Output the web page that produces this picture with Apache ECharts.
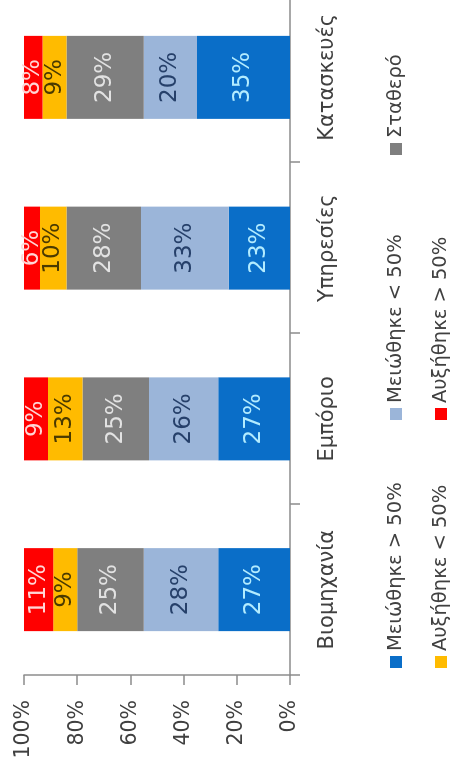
<!DOCTYPE html>
<html>
<head>
<meta charset="utf-8">
<script src="https://cdn.jsdelivr.net/npm/echarts@6/dist/echarts.min.js"></script>
<style>
  html, body { margin: 0; padding: 0; width: 456px; height: 770px; overflow: hidden; background: #fff; }
  /* The chart is laid out landscape and turned a quarter turn counter-clockwise */
  #chart {
    position: absolute; left: 0; top: 0;
    width: 790px; height: 456px;
    transform-origin: 0 0;
    transform: translateY(770px) rotate(-90deg);
  }
</style>
</head>
<body>
<div id="chart"></div>
<script>
// Sectors
var categories = ['Βιομηχανία', 'Εμπόριο', 'Υπηρεσίες', 'Κατασκευές'];

// Share of firms per answer (%), one value per sector
var decreasedOver50  = [27, 27, 23, 35];
var decreasedUnder50 = [28, 26, 33, 20];
var stable           = [25, 25, 28, 29];
var increasedUnder50 = [9, 13, 10, 9];
var increasedOver50  = [11, 9, 6, 8];

var seriesNames = ['Μειώθηκε > 50%', 'Μειώθηκε < 50%', 'Σταθερό', 'Αυξήθηκε < 50%', 'Αυξήθηκε > 50%'];
var yTicks = [0, 20, 40, 60, 80, 100];

var FONT = 'DejaVu Sans';
var TEXT = '#404040';

var seriesData = [decreasedOver50, decreasedUnder50, stable, increasedUnder50, increasedOver50];
var barColors = ['#0a6ec8', '#9bb5d9', '#7f7f7f', '#ffbb00', '#ff0000'];
var labelColors = ['#b3ecff', '#26406a', '#e2e2e2', '#4a3a00', '#ffd6d6'];

var series = seriesNames.map(function (name, i) {
  return {
    name: name,
    type: 'bar',
    stack: 'total',
    barWidth: 83,
    data: seriesData[i],
    itemStyle: { color: barColors[i] },
    label: {
      show: true,
      position: 'inside',
      formatter: '{c}%',
      color: labelColors[i],
      fontFamily: FONT,
      fontSize: 23
    },
    emphasis: { disabled: true }
  };
});

// One legend block per entry: two rows, three columns
var legendSlots = [
  { left: 102, top: 386 },
  { left: 350, top: 386 },
  { left: 615, top: 386 },
  { left: 102, top: 431 },
  { left: 350, top: 431 }
];
var legends = seriesNames.map(function (name, i) {
  return {
    data: [name],
    left: legendSlots[i].left,
    top: legendSlots[i].top,
    icon: 'rect',
    itemWidth: 12,
    itemHeight: 12,
    padding: 0,
    selectedMode: false,
    textStyle: { color: TEXT, fontFamily: FONT, fontSize: 19.5 }
  };
});

var chart = echarts.init(document.getElementById('chart'), null, { renderer: 'canvas' });
chart.setOption({
  animation: false,
  backgroundColor: '#ffffff',
  grid: { left: 95, right: 12, top: 24, bottom: 166 },
  legend: legends,
  xAxis: {
    type: 'category',
    data: categories,
    axisLine: { lineStyle: { color: '#8c8c8c', width: 1.5 } },
    axisTick: { show: true, length: 10, lineStyle: { color: '#8c8c8c', width: 1.5 } },
    axisLabel: { color: TEXT, fontFamily: FONT, fontSize: 21, margin: 27 }
  },
  yAxis: {
    type: 'value',
    min: yTicks[0],
    max: yTicks[yTicks.length - 1],
    interval: yTicks[1] - yTicks[0],
    axisLine: { show: true, lineStyle: { color: '#8c8c8c', width: 1.5 } },
    axisTick: { show: true, length: 10, lineStyle: { color: '#8c8c8c', width: 1.5 } },
    splitLine: { show: false },
    axisLabel: { color: TEXT, fontFamily: FONT, fontSize: 20.5, margin: 25, formatter: '{value}%' }
  },
  series: series
});
</script>
</body>
</html>
